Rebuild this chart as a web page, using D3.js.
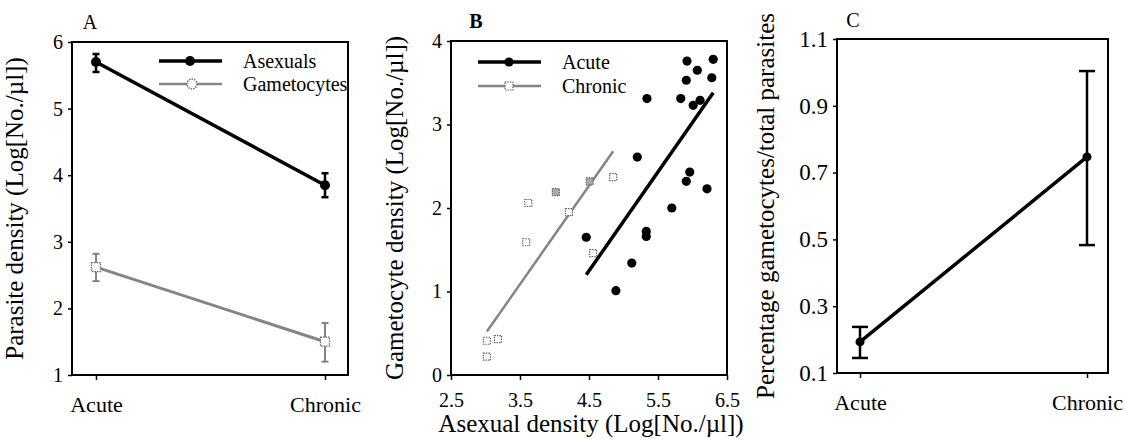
<html>
<head>
<style>
  body { margin: 0; background: #fff; }
  svg { display: block; }
  text { font-family: "Liberation Serif", "Times New Roman", serif; fill: #000; }
</style>
</head>
<body>
<div id="graph"></div>
<script src="https://cdnjs.cloudflare.com/ajax/libs/d3/7.8.5/d3.min.js"></script>
<script>
// ---- data ----
var stages = ["Acute", "Chronic"];

// panel A: parasite density, mean and error bar ends
var asexMean = [5.70, 3.85];
var asexLow  = [5.55, 3.67];
var asexHigh = [5.82, 4.03];
var gamMean  = [2.62, 1.50];
var gamLow   = [2.41, 1.20];
var gamHigh  = [2.82, 1.78];
var aTicks = [1, 2, 3, 4, 5, 6];

// panel B: gametocyte vs asexual density
var acuteX = [5.92, 6.30, 6.07, 5.91, 6.28, 5.34, 5.83, 6.11, 6.01, 5.20, 5.96, 5.91, 6.21, 5.70, 4.46, 5.33, 5.33, 5.12, 4.89];
var acuteY = [3.76, 3.78, 3.65, 3.53, 3.56, 3.31, 3.31, 3.29, 3.23, 2.61, 2.43, 2.32, 2.23, 2.00, 1.65, 1.72, 1.66, 1.34, 1.01];
var chronicX = [3.62, 4.02, 4.51, 4.85, 4.21, 3.59, 4.56, 3.02, 3.18, 3.02];
var chronicY = [2.06, 2.19, 2.32, 2.37, 1.95, 1.59, 1.46, 0.41, 0.43, 0.22];
var chronicShaded = [1, 2]; // indexes of the two grey squares
var acuteFitX = [4.46, 6.30], acuteFitY = [1.20, 3.38];
var chronicFitX = [3.02, 4.85], chronicFitY = [0.52, 2.68];
var bxTicks = [2.5, 3.5, 4.5, 5.5, 6.5];
var byTicks = [0, 1, 2, 3, 4];

// panel C: percentage gametocytes
var pctMean = [0.193, 0.747];
var pctLow  = [0.145, 0.483];
var pctHigh = [0.238, 1.004];
var cTicks = [0.1, 0.3, 0.5, 0.7, 0.9, 1.1];

var GREY = "#858585";

var svg = d3.select("#graph").append("svg")
    .attr("width", 1125).attr("height", 439);

// frame + left ticks, shared by all panels
function frame(x0, y0, x1, y1) {
    svg.append("rect")
        .attr("x", x0).attr("y", y0)
        .attr("width", x1 - x0).attr("height", y1 - y0)
        .attr("fill", "none").attr("stroke", "#000").attr("stroke-width", 2);
}

function yAxis(x0, scale, ticks, fmt, fontSize) {
    var g = svg.append("g")
        .attr("transform", "translate(" + x0 + ",0)")
        .call(d3.axisLeft(scale).tickValues(ticks).tickFormat(fmt).tickSize(4).tickPadding(5));
    g.select(".domain").remove();
    g.selectAll("line").attr("stroke-width", 1.5);
    g.selectAll("text").attr("font-family", "Liberation Serif").attr("font-size", fontSize);
    return g;
}

function xAxis(y0, scale, ticks, fmt, fontSize, labelY) {
    var ax = d3.axisBottom(scale).tickSize(5).tickPadding(0);
    if (ticks) ax.tickValues(ticks);
    if (fmt) ax.tickFormat(fmt);
    var g = svg.append("g").attr("transform", "translate(0," + y0 + ")").call(ax);
    g.select(".domain").remove();
    g.selectAll("line").attr("stroke-width", 1.5);
    g.selectAll("text").attr("font-family", "Liberation Serif").attr("font-size", fontSize)
        .attr("y", labelY).attr("dy", 0);
    return g;
}

function yLabel(x, y, txt) {
    svg.append("text")
        .attr("transform", "translate(" + x + "," + y + ") rotate(-90)")
        .attr("text-anchor", "middle").attr("font-size", 25)
        .text(txt);
}

function errBars(xs, lo, hi, color, cap, width) {
    var g = svg.append("g").attr("stroke", color).attr("stroke-width", width);
    stages.forEach(function(s, i) {
        var x = xs.x(s), yl = xs.y(lo[i]), yh = xs.y(hi[i]);
        g.append("line").attr("x1", x).attr("x2", x).attr("y1", yl).attr("y2", yh);
        g.append("line").attr("x1", x - cap).attr("x2", x + cap).attr("y1", yl).attr("y2", yl);
        g.append("line").attr("x1", x - cap).attr("x2", x + cap).attr("y1", yh).attr("y2", yh);
    });
}

// ================= Panel A =================
(function() {
    var L = 72, T = 42, R = 348, B = 375;
    var x = d3.scalePoint().domain(stages).range([96, 325]);
    var y = d3.scaleLinear().domain([1, 6]).range([B, T]);

    frame(L, T, R, B);
    yAxis(L, y, aTicks, d3.format("d"), 20);
    xAxis(B, x, null, null, 22, 37);
    yLabel(23, (T + B) / 2, "Parasite density (Log[No./\u00b5l])");
    svg.append("text").attr("x", 90).attr("y", 29).attr("text-anchor", "middle")
        .attr("font-size", 20).text("A");

    var line = d3.line().x(function(d, i) { return x(stages[i]); }).y(function(d) { return y(d); });

    // gametocytes (grey)
    errBars({x: x, y: y}, gamLow, gamHigh, GREY, 3.5, 2);
    svg.append("path").datum(gamMean).attr("d", line)
        .attr("fill", "none").attr("stroke", GREY).attr("stroke-width", 3);
    svg.selectAll(".gam").data(gamMean).enter().append("rect")
        .attr("x", function(d, i) { return x(stages[i]) - 4.5; })
        .attr("y", function(d) { return y(d) - 4.5; })
        .attr("width", 9).attr("height", 9)
        .attr("fill", "#fff").attr("stroke", "#666").attr("stroke-width", 1.3)
        .attr("stroke-dasharray", "1.5,1");

    // asexuals (black)
    errBars({x: x, y: y}, asexLow, asexHigh, "#000", 3.5, 2.5);
    svg.append("path").datum(asexMean).attr("d", line)
        .attr("fill", "none").attr("stroke", "#000").attr("stroke-width", 3.5);
    svg.selectAll(".asex").data(asexMean).enter().append("circle")
        .attr("cx", function(d, i) { return x(stages[i]); })
        .attr("cy", function(d) { return y(d); })
        .attr("r", 5).attr("fill", "#000");

    // legend
    var lg = svg.append("g");
    lg.append("line").attr("x1", 159).attr("x2", 222).attr("y1", 61).attr("y2", 61)
        .attr("stroke", "#000").attr("stroke-width", 3.5);
    lg.append("circle").attr("cx", 190).attr("cy", 61).attr("r", 5).attr("fill", "#000");
    lg.append("text").attr("x", 243).attr("y", 68).attr("font-size", 20).text("Asexuals");
    lg.append("line").attr("x1", 159).attr("x2", 222).attr("y1", 84).attr("y2", 84)
        .attr("stroke", GREY).attr("stroke-width", 2.5);
    lg.append("circle").attr("cx", 192).attr("cy", 84).attr("r", 5)
        .attr("fill", "#fff").attr("stroke", "#666").attr("stroke-width", 1.3)
        .attr("stroke-dasharray", "1.5,1");
    lg.append("text").attr("x", 243).attr("y", 91).attr("font-size", 20).text("Gametocytes");
})();

// ================= Panel B =================
(function() {
    var L = 451, T = 41, R = 727, B = 375;
    var x = d3.scaleLinear().domain([2.5, 6.5]).range([L, R]);
    var y = d3.scaleLinear().domain([0, 4]).range([B, T]);

    frame(L, T, R, B);
    yAxis(L, y, byTicks, d3.format("d"), 20);
    xAxis(B, x, bxTicks, d3.format(".1f"), 20, 32);
    yLabel(403, (T + B) / 2, "Gametocyte density (Log[No./\u00b5l])");
    svg.append("text").attr("x", (L + R) / 2 + 2).attr("y", 432).attr("text-anchor", "middle")
        .attr("font-size", 25).text("Asexual density (Log[No./\u00b5l])");
    svg.append("text").attr("x", 476).attr("y", 28).attr("text-anchor", "middle")
        .attr("font-size", 20).attr("font-weight", "bold").text("B");

    // fitted lines
    svg.append("line")
        .attr("x1", x(chronicFitX[0])).attr("y1", y(chronicFitY[0]))
        .attr("x2", x(chronicFitX[1])).attr("y2", y(chronicFitY[1]))
        .attr("stroke", GREY).attr("stroke-width", 2.5);
    svg.append("line")
        .attr("x1", x(acuteFitX[0])).attr("y1", y(acuteFitY[0]))
        .attr("x2", x(acuteFitX[1])).attr("y2", y(acuteFitY[1]))
        .attr("stroke", "#000").attr("stroke-width", 3.5);

    // chronic squares
    svg.selectAll(".chr").data(chronicX).enter().append("rect")
        .attr("x", function(d) { return x(d) - 3.5; })
        .attr("y", function(d, i) { return y(chronicY[i]) - 3.5; })
        .attr("width", 7).attr("height", 7)
        .attr("fill", function(d, i) { return chronicShaded.indexOf(i) >= 0 ? "#aaa" : "#fff"; })
        .attr("stroke", "#666").attr("stroke-width", 1.2)
        .attr("stroke-dasharray", "1.5,1");

    // acute dots
    svg.selectAll(".acu").data(acuteX).enter().append("circle")
        .attr("cx", function(d) { return x(d); })
        .attr("cy", function(d, i) { return y(acuteY[i]); })
        .attr("r", 4.6).attr("fill", "#000");

    // legend
    var lg = svg.append("g");
    lg.append("line").attr("x1", 478).attr("x2", 541).attr("y1", 62).attr("y2", 62)
        .attr("stroke", "#000").attr("stroke-width", 3.5);
    lg.append("circle").attr("cx", 509).attr("cy", 62).attr("r", 4.6).attr("fill", "#000");
    lg.append("text").attr("x", 562).attr("y", 69).attr("font-size", 20).text("Acute");
    lg.append("line").attr("x1", 478).attr("x2", 541).attr("y1", 86).attr("y2", 86)
        .attr("stroke", GREY).attr("stroke-width", 2.5);
    lg.append("rect").attr("x", 505).attr("y", 82).attr("width", 8).attr("height", 8)
        .attr("fill", "#fff").attr("stroke", "#666").attr("stroke-width", 1.2)
        .attr("stroke-dasharray", "1.5,1");
    lg.append("text").attr("x", 562).attr("y", 93).attr("font-size", 20).text("Chronic");
})();

// ================= Panel C =================
(function() {
    var L = 837, T = 39, R = 1108, B = 373;
    var x = d3.scalePoint().domain(stages).range([860, 1087]);
    var y = d3.scaleLinear().domain([0.1, 1.1]).range([B, T]);

    frame(L, T, R, B);
    yAxis(L, y, cTicks, d3.format(".1f"), 23);
    xAxis(B, x, null, null, 22, 37);
    yLabel(774, (T + B) / 2, "Percentage gametocytes/total parasites");
    svg.append("text").attr("x", 853).attr("y", 27).attr("text-anchor", "middle")
        .attr("font-size", 20).text("C");

    errBars({x: x, y: y}, pctLow, pctHigh, "#000", 8, 2.5);
    var line = d3.line().x(function(d, i) { return x(stages[i]); }).y(function(d) { return y(d); });
    svg.append("path").datum(pctMean).attr("d", line)
        .attr("fill", "none").attr("stroke", "#000").attr("stroke-width", 3.5);
    svg.selectAll(".pct").data(pctMean).enter().append("circle")
        .attr("cx", function(d, i) { return x(stages[i]); })
        .attr("cy", function(d) { return y(d); })
        .attr("r", 4.5).attr("fill", "#000");
})();
</script>
</body>
</html>
